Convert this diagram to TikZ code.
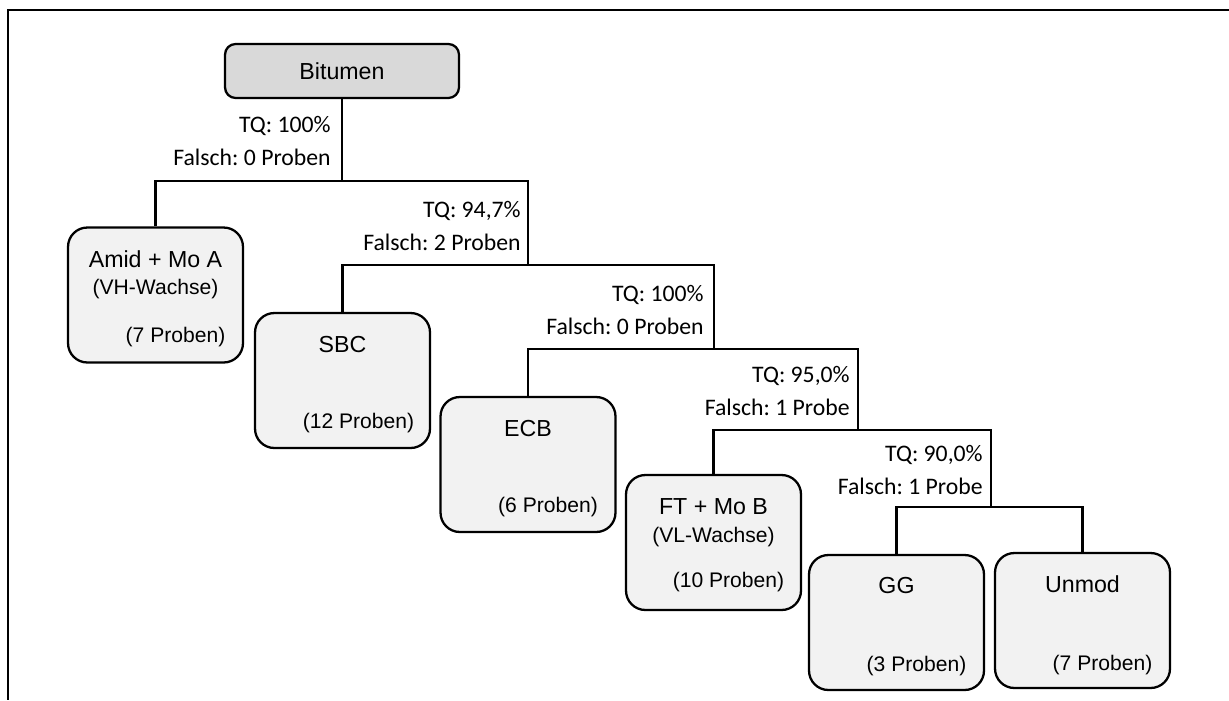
\documentclass[tikz,border=0pt]{standalone}
\usepackage{fontspec}
\setmainfont{Liberation Sans}
\newfontfamily\lblfont{Carlito}
\usetikzlibrary{calc}
\definecolor{leafgray}{HTML}{F2F2F2}
\definecolor{rootgray}{HTML}{D9D9D9}
\frenchspacing

\begin{document}
\begin{tikzpicture}[x=0.02cm,y=-0.02cm,
    link/.style={line width=1.3pt},
    leaf/.style={draw,line width=1.3pt,rounded corners=11pt,fill=leafgray,
      minimum width=3.5cm,minimum height=2.7cm,inner sep=0pt},
    root/.style={draw,line width=1.3pt,rounded corners=6pt,fill=rootgray,
      minimum width=4.68cm,minimum height=1.08cm,inner sep=0pt,
      font=\fontsize{13.2}{15}\selectfont},
    ttl/.style={inner sep=0pt,font=\fontsize{13.2}{15}\selectfont},
    subtxt/.style={inner sep=0pt,font=\fontsize{12}{14}\selectfont},
    lbl/.style={anchor=east,align=right,inner sep=0pt,
      font=\lblfont\fontsize{13.5}{18.7}\selectfont}]
  \useasboundingbox (0,0) rectangle (1229,700);
  % Rahmen (nur oben und links sichtbar)
  \draw[line width=1.3pt] (1229,10) -- (8,10) -- (8,700);

  % Wurzel
  \node[root] (bit) at (342,71) {Bitumen};

  % Blaetter
  \node[leaf] (amid) at (155.5,295) {};
  \node[leaf] (sbc) at (342.5,380.5) {};
  \node[leaf] (ecb) at (528,464.5) {};
  \node[leaf] (ft) at (713.5,542.5) {};
  \node[leaf] (gg) at (896.5,622.5) {};
  \node[leaf] (unmod) at (1082.5,620.5) {};

  % Texte in den Blaettern
  \node[ttl] (amid-t) at ($(amid.north)+(0,33)$) {Amid + Mo A};
  \node[subtxt] (amid-s) at ($(amid.north)+(0,63)$) {(VH-Wachse)};
  \node[subtxt] (amid-n) at ($(amid.north)+(20,111)$) {(7 Proben)};
  \node[ttl] (sbc-t) at ($(sbc.north)+(0,33)$) {SBC};
  \node[subtxt] (sbc-n) at ($(sbc.north)+(16,111)$) {(12 Proben)};
  \node[ttl] (ecb-t) at ($(ecb.north)+(0,33)$) {ECB};
  \node[subtxt] (ecb-n) at ($(ecb.north)+(20,111)$) {(6 Proben)};
  \node[ttl] (ft-t) at ($(ft.north)+(0,33)$) {FT + Mo B};
  \node[subtxt] (ft-s) at ($(ft.north)+(0,63)$) {(VL-Wachse)};
  \node[subtxt] (ft-n) at ($(ft.north)+(15,108)$) {(10 Proben)};
  \node[ttl] (gg-t) at ($(gg.north)+(0,32)$) {GG};
  \node[subtxt] (gg-n) at ($(gg.north)+(20,112)$) {(3 Proben)};
  \node[ttl] (unmod-t) at ($(unmod.north)+(0,32)$) {Unmod};
  \node[subtxt] (unmod-n) at ($(unmod.north)+(20,113)$) {(7 Proben)};

  % Verzweigungspunkte
  \coordinate (d1) at (bit.south |- 0,181);
  \coordinate (d2) at (528,265);
  \coordinate (d3) at (714,349);
  \coordinate (d4) at (858,430);
  \coordinate (d5) at (991,507);

  % Verbindungen
  \draw[link] (bit.south) -- (d1);
  \draw[link] (amid.north) |- (d2 |- d1) -- (d2);
  \draw[link] (sbc.north) |- (d3 |- d2) -- (d3);
  \draw[link] (ecb.north) |- (d4 |- d3) -- (d4);
  \draw[link] (ft.north) |- (d5 |- d4) -- (d5);
  \draw[link] (gg.north) |- (unmod.north |- d5) -- (unmod.north);

  % Trefferquoten
  \node[lbl] (q1) at (331,141) {TQ: 100\%\\Falsch: 0 Proben};
  \node[lbl] (q2) at (521,226) {TQ: 94,7\%\\Falsch: 2 Proben};
  \node[lbl] (q3) at (704,310) {TQ: 100\%\\Falsch: 0 Proben};
  \node[lbl] (q4) at (850,391) {TQ: 95,0\%\\Falsch: 1 Probe};
  \node[lbl] (q5) at (983,470) {TQ: 90,0\%\\Falsch: 1 Probe};
\end{tikzpicture}
\end{document}
